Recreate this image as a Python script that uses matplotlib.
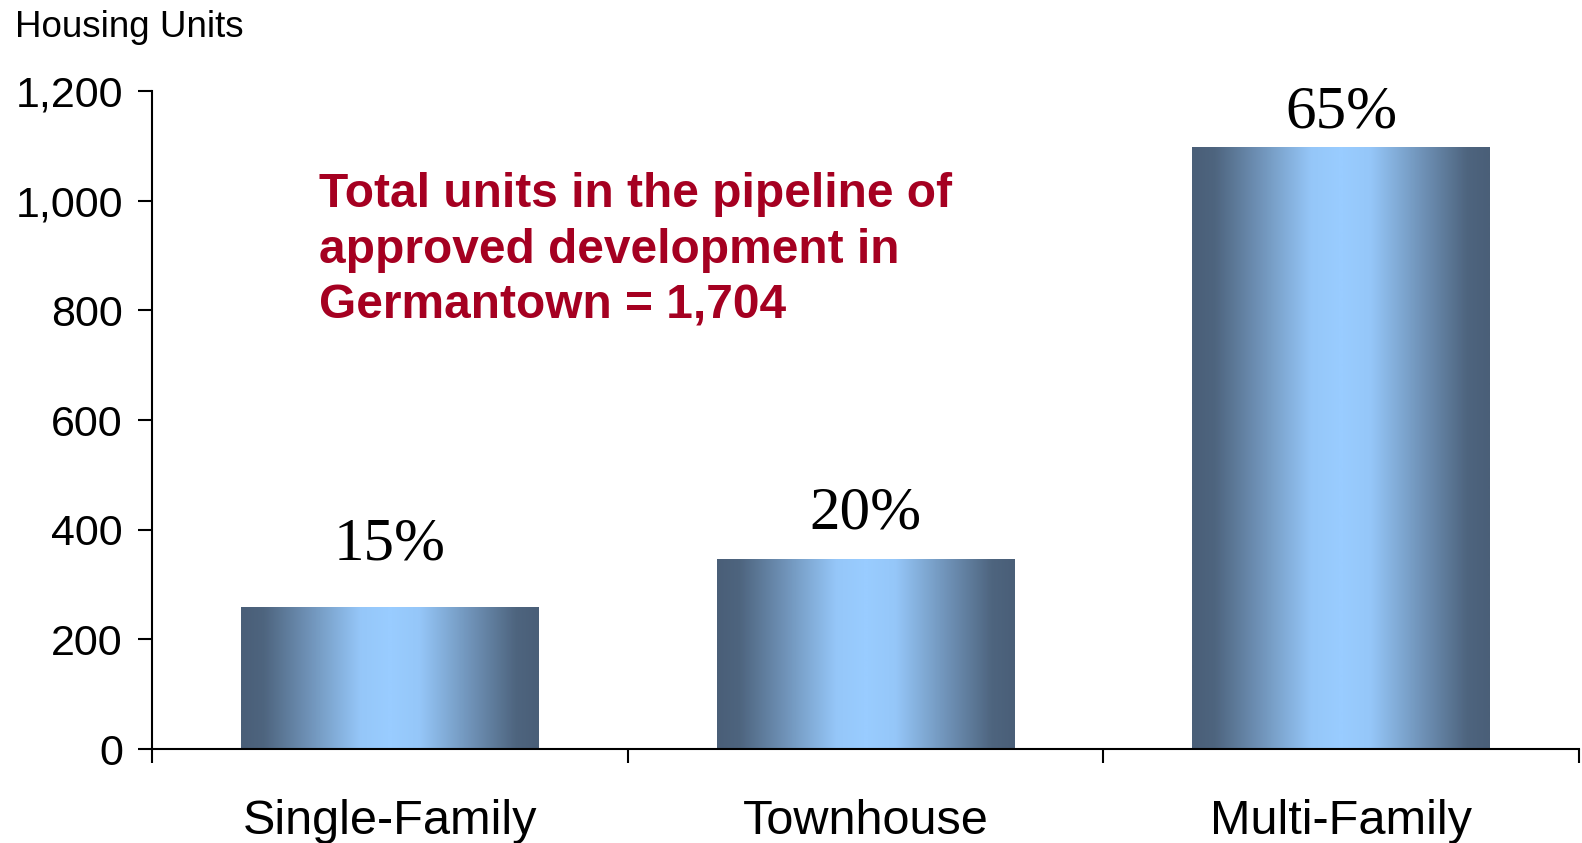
import numpy as np
import matplotlib.pyplot as plt
from matplotlib.colors import LinearSegmentedColormap

# data
categories = ["Single-Family", "Townhouse", "Multi-Family"]
units = [259, 347, 1098]
shares = ["15%", "20%", "65%"]
yticks = [0, 200, 400, 600, 800, 1000, 1200]
ytick_labels = ["0", "200", "400", "600", "800", "1,000", "1,200"]
note = "Total units in the pipeline of\napproved development in\nGermantown = 1,704"

# label lift above each bar (points)
label_lift = [34, 22, 14]

plt.rcParams['font.family'] = ['Liberation Sans', 'DejaVu Sans']

fig = plt.figure(figsize=(15.82, 8.43), dpi=100)
ax = fig.add_axes([0.0961, 0.1115, 0.9019, 0.7805])

# gradient fill: dark at the bar edges, light blue in the middle
cmap = LinearSegmentedColormap.from_list("bar", ["#4A5F78", "#99CCFF"])
xs = np.linspace(0, 1, 256)
t = 1 - np.abs(2 * xs - 1)
shade = np.interp(t, [0, 0.15, 0.8, 1], [0, 0.05, 0.95, 1])
grad = shade[np.newaxis, :]

x = np.arange(len(categories))
bars = ax.bar(x, units, width=0.625, color='none', edgecolor='none', zorder=2)
for b in bars:
    x0, y0 = b.get_x(), b.get_y()
    im = ax.imshow(grad, cmap=cmap, vmin=0, vmax=1, aspect='auto',
                   extent=[x0, x0 + b.get_width(), y0, y0 + b.get_height()],
                   interpolation='bilinear', zorder=1)
    im.set_clip_path(b)

for xi, v, s, lift in zip(x, units, shares, label_lift):
    ax.annotate(s, (xi, v), xytext=(0, lift), textcoords='offset points',
                ha='center', va='baseline', fontsize=44,
                family=['Liberation Serif', 'DejaVu Serif'])

ax.set_xlim(-0.5, 2.5)
ax.set_ylim(0, 1200)

ax.set_yticks(yticks)
ax.set_yticklabels(ytick_labels)
ax.set_xticks([-0.5, 0.5, 1.5, 2.5])
ax.set_xticklabels([])
ax.set_xticks(x, minor=True)
ax.set_xticklabels(categories, minor=True)

ax.tick_params(axis='y', direction='out', length=10, width=1.5, pad=11, labelsize=31)
ax.tick_params(axis='x', which='major', direction='out', length=10, width=1.5)
ax.tick_params(axis='x', which='minor', length=0, pad=36, labelsize=35)

for side in ['top', 'right']:
    ax.spines[side].set_visible(False)
for side in ['left', 'bottom']:
    ax.spines[side].set_linewidth(1.5)

ax.text(0.117, 0.758, note, transform=ax.transAxes, ha='left', va='center',
        fontsize=34.5, fontweight='bold', color='#A50021', linespacing=1.32)

fig.text(15 / 1582, 1 - 37 / 843, "Housing Units", ha='left', va='baseline', fontsize=26.5)

fig.savefig("out.png", dpi=100)
